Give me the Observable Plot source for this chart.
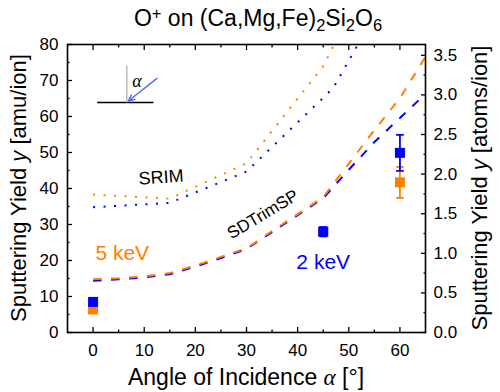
<!DOCTYPE html>
<html>
<head>
<meta charset="utf-8">
<script src="https://cdn.jsdelivr.net/npm/d3@7"></script>
<script src="https://cdn.jsdelivr.net/npm/@observablehq/plot@0.6"></script>
<style>
  html, body { margin: 0; padding: 0; background: #fff; }
  body { font-family: "Liberation Sans", Arial, sans-serif; width: 500px; height: 392px; overflow: hidden; }
  #title { position: relative; height: 36px; }
  #title div { position: absolute; left: 0; width: 516px; top: 6px; text-align: center; font-size: 23px; line-height: 24px; color: #000; white-space: nowrap; }
  #title sub, #title sup { font-size: 0.72em; line-height: 0; }
  #title sub { vertical-align: -0.3em; }
  #title sup { vertical-align: 0.45em; }
  #chart svg { display: block; }
</style>
</head>
<body>
<div id="title"><div>O<sup>+</sup> on (Ca,Mg,Fe)<sub>2</sub>Si<sub>2</sub>O<sub>6</sub></div></div>
<div id="chart"></div>
<script>
const ORANGE = "#ff8000";
const BLUE = "#0000ff";
const R = 22; // amu per atom, right axis conversion

// measured sputter yields [amu/ion]
const measAngle = [0, 45, 60];
const meas5keV = [6.4, 28.0, 41.7];
const err5keV = [0.5, 1.0, 4.3];
const meas2keV = [8.5, 28.0, 49.9];
const err2keV = [0.8, 1.3, 5.0];

// SDTrimSP simulations (dashed)
const sdAngle = [0, 5, 10, 15, 20, 25, 30, 35, 40, 45, 50, 55, 60, 65];
const sd5keV = [14.8, 15.1, 15.6, 16.5, 18.6, 21.0, 23.4, 28.2, 32.9, 37.6, 46.9, 56.2, 65.1, 76.6];
const sd2keV = [14.4, 14.8, 15.3, 16.2, 18.3, 20.7, 23.2, 27.9, 32.6, 37.3, 45.2, 52.9, 59.6, 66.3];

// SRIM simulations (dotted)
const srimAngle5 = [0, 15, 30, 45, 50];
const srim5keV = [38.3, 37.2, 47.0, 74.0, 88.0];
const srimAngle2 = [0, 15, 30, 45, 47, 50, 55];
const srim2keV = [34.8, 36.0, 44.7, 65.2, 68.0, 75.5, 88.0];

// ticks
const xMajor = [0, 10, 20, 30, 40, 50, 60];
const xMinor = [5, 15, 25, 35, 45, 55];
const yMajor = [0, 10, 20, 30, 40, 50, 60, 70, 80];
const yMinor = [5, 15, 25, 35, 45, 55, 65, 75];
const rMajor = [0, 0.5, 1.0, 1.5, 2.0, 2.5, 3.0, 3.5];
const rMinor = [0.25, 0.75, 1.25, 1.75, 2.25, 2.75, 3.25];

// annotations (data coordinates)
const annotText = ["SRIM", "SDTrimSP", "5 keV", "2 keV"];
const annotX = [13.3, 33.2, 5.7, 45.0];
const annotY = [43.1, 32.8, 21.9, 19.5];

// inset sketch (data coordinates)
const insetSurface = [{x1: 0.8, y1: 63.9, x2: 11.8, y2: 63.9}];
const insetNormal = [{x1: 6.6, y1: 63.9, x2: 6.6, y2: 74.2}];
const insetBeam = [{x1: 12.5, y1: 70.6, x2: 6.9, y2: 64.3}];
const insetAlpha = [{x: 8.6, y: 69.8, text: "α"}];

const rows = (xs, ys, es) => xs.map((a, i) => ({a, y: ys[i], e: es ? es[i] : 0}));
const m5 = rows(measAngle, meas5keV, err5keV);
const m2 = rows(measAngle, meas2keV, err2keV);
const s5 = rows(sdAngle, sd5keV);
const s2 = rows(sdAngle, sd2keV);
const r5 = rows(srimAngle5, srim5keV);
const r2 = rows(srimAngle2, srim2keV);
const ann = annotText.map((t, i) => ({t, x: annotX[i], y: annotY[i]}));

const cap = {draw(ctx, size) { const r = Math.sqrt(size / Math.PI); ctx.moveTo(-r, 0); ctx.lineTo(r, 0); }};
const blank = () => "";

function errMarks(data, color) {
  return [
    Plot.ruleX(data, {x: "a", y1: d => d.y - d.e, y2: d => d.y + d.e, stroke: color, strokeWidth: 1.8}),
    Plot.dot(data, {x: "a", y: d => d.y + d.e, symbol: cap, r: 3.8, stroke: color, strokeWidth: 1.8, fill: "none"}),
    Plot.dot(data, {x: "a", y: d => d.y - d.e, symbol: cap, r: 3.8, stroke: color, strokeWidth: 1.8, fill: "none"}),
    Plot.dot(data, {x: "a", y: "y", symbol: "square", r: 5.64, fill: color, stroke: "none"})
  ];
}

const lineOpts = {x: "a", y: "y", strokeWidth: 2, strokeLinecap: "butt", clip: true};

const chart = Plot.plot({
  width: 500,
  height: 356,
  marginTop: 8,
  marginBottom: 60,
  marginLeft: 67,
  marginRight: 75,
  x: {domain: [-5, 65]},
  y: {domain: [0, 80]},
  style: {fontFamily: "'Liberation Sans', Arial, sans-serif", fontSize: "17px", color: "black", background: "white", overflow: "visible"},
  marks: [
    // inset sketch
    Plot.link(insetSurface, {x1: "x1", y1: "y1", x2: "x2", y2: "y2", stroke: "black", strokeWidth: 1.5}),
    Plot.link(insetNormal, {x1: "x1", y1: "y1", x2: "x2", y2: "y2", stroke: "#b0b0b0", strokeWidth: 1.3}),
    Plot.arrow(insetBeam, {x1: "x1", y1: "y1", x2: "x2", y2: "y2", stroke: "#5566ff", strokeWidth: 1.4, headLength: 7, headAngle: 50}),
    Plot.text(insetAlpha, {x: "x", y: "y", text: "text", fontSize: 18, fontStyle: "italic", fontFamily: "'Liberation Serif', serif", fill: "black"}),

    // SRIM dotted
    Plot.line(r2, {...lineOpts, stroke: BLUE, strokeDasharray: "2,8.5"}),
    Plot.line(r5, {...lineOpts, stroke: ORANGE, strokeDasharray: "2,8.5"}),
    // SDTrimSP dashed
    Plot.line(s2, {...lineOpts, stroke: BLUE, strokeDasharray: "8.5,9.5"}),
    Plot.line(s5, {...lineOpts, stroke: ORANGE, strokeDasharray: "8.5,9.5"}),

    // measurements
    ...errMarks(m5, ORANGE),
    ...errMarks(m2, BLUE),

    // annotations
    Plot.text([ann[0]], {x: "x", y: "y", text: "t", fontSize: 18, rotate: -4, fill: "black"}),
    Plot.text([ann[1]], {x: "x", y: "y", text: "t", fontSize: 17, rotate: -31, fill: "black"}),
    Plot.text([ann[2]], {x: "x", y: "y", text: "t", fontSize: 21, fill: ORANGE}),
    Plot.text([ann[3]], {x: "x", y: "y", text: "t", fontSize: 21, fill: BLUE}),

    // axes (inward ticks)
    Plot.axisX(xMajor, {anchor: "bottom", tickSize: -5, tickPadding: 16, label: null, strokeWidth: 1.3}),
    Plot.axisX(xMinor, {anchor: "bottom", tickSize: -2.5, tickFormat: blank, label: null, strokeWidth: 1.3}),
    Plot.axisX(xMajor, {anchor: "top", tickSize: -5, tickFormat: blank, label: null, strokeWidth: 1.3}),
    Plot.axisX(xMinor, {anchor: "top", tickSize: -2.5, tickFormat: blank, label: null, strokeWidth: 1.3}),
    Plot.axisY(yMajor, {anchor: "left", tickSize: -5, tickPadding: 14, label: null, strokeWidth: 1.3}),
    Plot.axisY(yMinor, {anchor: "left", tickSize: -2.5, tickFormat: blank, label: null, strokeWidth: 1.3}),
    Plot.axisY(rMajor.map(v => v * R), {anchor: "right", tickSize: -5, tickPadding: 13, label: null, tickFormat: d => (d / R).toFixed(1), strokeWidth: 1.3}),
    Plot.axisY(rMinor.map(v => v * R), {anchor: "right", tickSize: -2.5, tickFormat: blank, label: null, strokeWidth: 1.3}),
    Plot.frame({stroke: "black", strokeWidth: 1.6})
  ]
});

document.getElementById("chart").appendChild(chart);

// axis titles with mixed italic
const svg = d3.select(chart);
const fam = "'Liberation Sans', Arial, sans-serif";
const xl = svg.append("text").attr("x", 246).attr("y", 349).attr("text-anchor", "middle")
  .style("font-family", fam).style("font-size", "23px").attr("fill", "black");
xl.append("tspan").text("Angle of Incidence ");
xl.append("tspan").style("font-family", "'Liberation Serif', serif").style("font-style", "italic").text("α");
xl.append("tspan").text(" [°]");

function yTitle(x, unit) {
  const t = svg.append("text").attr("transform", `translate(${x},152) rotate(-90)`).attr("text-anchor", "middle")
    .style("font-family", fam).style("font-size", "22px").attr("fill", "black");
  t.append("tspan").text("Sputtering Yield ");
  t.append("tspan").style("font-style", "italic").text("y");
  t.append("tspan").text(` [${unit}]`);
}
yTitle(26, "amu/ion");
yTitle(487, "atoms/ion");
</script>
</body>
</html>
